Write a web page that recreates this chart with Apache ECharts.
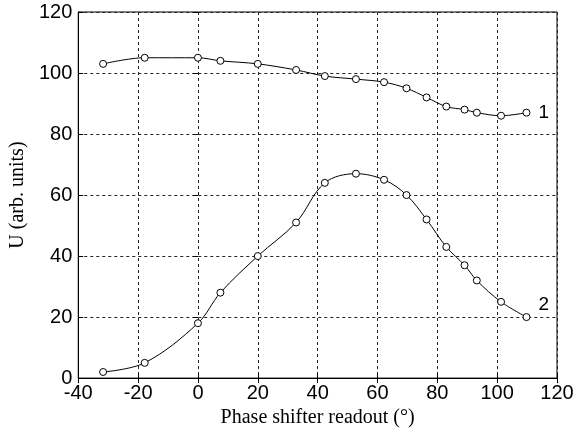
<!DOCTYPE html>
<html>
<head>
<meta charset="utf-8">
<script src="https://cdn.jsdelivr.net/npm/echarts@6/dist/echarts.min.js"></script>
<style>
  html, body { margin: 0; padding: 0; background: #fff; }
  #chart { width: 584px; height: 433px; }
</style>
</head>
<body>
<div id="chart"></div>
<script>
// phase shifter readout (deg)
var phase = [-31.7, -17.8, 0, 7.5, 20, 32.8, 42.4, 52.8, 62.2, 69.7, 76.4, 83, 89.1, 93.2, 101.3, 109.8];
// curve 1 and curve 2 (arb. units)
var curve1 = [103, 105, 105, 104, 103, 101, 99, 98, 97, 95, 92, 89, 88, 87, 86, 87];
var curve2 = [2, 5, 18, 28, 40, 51, 64, 67, 65, 60, 52, 43, 37, 32, 25, 20];
var curveNames = ['1', '2'];

function pairs(xs, ys) {
    var out = [];
    for (var i = 0; i < xs.length; i++) {
        out.push([xs[i], ys[i]]);
    }
    return out;
}

var chart = echarts.init(document.getElementById('chart'));

var gridLine = {
    show: true,
    lineStyle: { color: '#222', type: [3, 3], width: 1 }
};
var tickIn = { show: true, inside: true, length: 5, lineStyle: { color: '#000' } };
var tickFont = { color: '#000', fontFamily: 'Liberation Sans', fontSize: 20 };
var nameFont = { color: '#000', fontFamily: 'Liberation Serif', fontSize: 20 };

function lineSeries(name, ys, offset) {
    return {
        name: name,
        type: 'line',
        data: pairs(phase, ys),
        smooth: 0.35,
        symbol: 'circle',
        symbolSize: 7,
        showAllSymbol: true,
        lineStyle: { color: '#000', width: 1 },
        itemStyle: { color: '#fff', borderColor: '#000', borderWidth: 1 },
        endLabel: {
            show: true,
            formatter: name,
            color: '#000',
            fontFamily: 'Liberation Sans',
            fontSize: 19,
            distance: 12,
            offset: offset
        },
        z: 3
    };
}

var option = {
    animation: false,
    backgroundColor: '#fff',
    grid: {
        left: 77,
        right: 27,
        top: 12,
        bottom: 53,
        show: true,
        borderColor: '#000',
        borderWidth: 1,
        backgroundColor: 'transparent'
    },
    xAxis: [
        {
            type: 'value',
            min: -40,
            max: 120,
            interval: 20,
            name: 'Phase shifter readout (°)',
            nameLocation: 'middle',
            nameGap: 24,
            nameTextStyle: nameFont,
            axisLine: { show: true, onZero: false, lineStyle: { color: '#000' } },
            axisTick: tickIn,
            axisLabel: Object.assign({ margin: 5 }, tickFont),
            splitLine: gridLine
        },
        {
            type: 'value',
            position: 'top',
            min: -40,
            max: 120,
            interval: 20,
            axisLine: { show: false },
            axisTick: tickIn,
            axisLabel: { show: false },
            splitLine: { show: false }
        }
    ],
    yAxis: [
        {
            type: 'value',
            min: 0,
            max: 120,
            interval: 20,
            name: 'U (arb. units)',
            nameLocation: 'middle',
            nameGap: 43,
            nameTextStyle: nameFont,
            axisLine: { show: true, onZero: false, lineStyle: { color: '#000' } },
            axisTick: tickIn,
            axisLabel: Object.assign({ margin: 6 }, tickFont),
            splitLine: gridLine
        },
        {
            type: 'value',
            position: 'right',
            min: 0,
            max: 120,
            interval: 20,
            axisLine: { show: false },
            axisTick: tickIn,
            axisLabel: { show: false },
            splitLine: { show: false }
        }
    ],
    series: [
        lineSeries(curveNames[0], curve1, [0, 0]),
        lineSeries(curveNames[1], curve2, [0, -12])
    ]
};

chart.setOption(option);
</script>
</body>
</html>
